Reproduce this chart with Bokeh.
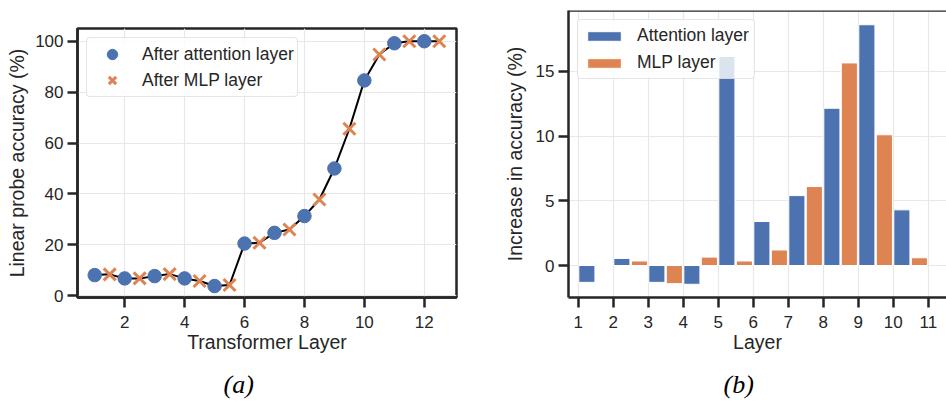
from bokeh.plotting import figure
from bokeh.models import Legend, LegendItem, Span, Title, FixedTicker, Range1d, ColumnDataSource
from bokeh.layouts import row
from bokeh.transform import dodge
from bokeh.embed import file_html
from bokeh.resources import INLINE

# ---- data: panel (a) ----
att_layers = [1, 2, 3, 4, 5, 6, 7, 8, 9, 10, 11, 12]
att_acc = [8.1, 6.8, 7.7, 6.8, 3.8, 20.5, 24.7, 31.3, 50.0, 84.6, 99.2, 100.0]
mlp_layers = [1.5, 2.5, 3.5, 4.5, 5.5, 6.5, 7.5, 8.5, 9.5, 10.5, 11.5, 12.5]
mlp_acc = [8.4, 6.8, 8.5, 5.8, 4.2, 20.8, 26.0, 37.8, 65.6, 94.8, 100.0, 100.0]
a_xticks = [2, 4, 6, 8, 10, 12]
a_yticks = [0, 20, 40, 60, 80, 100]

# ---- data: panel (b) ----
bar_layers = [1, 2, 3, 4, 5, 6, 7, 8, 9, 10]
inc_att = [-1.3, 0.55, -1.3, -1.45, 16.15, 3.4, 5.4, 12.15, 18.6, 4.3]
inc_mlp = [0.0, 0.35, -1.4, 0.65, 0.35, 1.2, 6.1, 15.65, 10.1, 0.6]
b_xticks = [1, 2, 3, 4, 5, 6, 7, 8, 9, 10, 11]
b_yticks = [0, 5, 10, 15]

BLUE = "#4c72b0"
ORANGE = "#dd8452"
DARK = "#262626"
GRID = "#e8e8e8"
FONT = "Liberation Sans"


def style(p, xticks, yticks):
    try:
        p.frame_align = False
    except Exception:
        pass
    p.xaxis.ticker = FixedTicker(ticks=xticks)
    p.yaxis.ticker = FixedTicker(ticks=yticks)
    for ax in p.axis:
        ax.major_label_text_font = FONT
        ax.major_label_text_font_size = "17px"
        ax.major_label_text_color = DARK
        ax.axis_label_text_font = FONT
        ax.axis_label_text_font_size = "19.5px"
        ax.axis_label_text_font_style = "normal"
        ax.axis_label_text_color = DARK
        ax.major_tick_out = 10
        ax.major_tick_in = 0
        ax.minor_tick_out = 0
        ax.minor_tick_in = 0
        ax.major_tick_line_width = 2.5
        ax.major_tick_line_color = DARK
        ax.axis_line_width = 2.5
        ax.axis_line_color = DARK
        ax.major_label_standoff = 4
    p.xaxis.major_label_standoff = 8
    p.xaxis.axis_label_standoff = 0
    for g in p.grid:
        g.grid_line_color = GRID
        g.grid_line_width = 1.2
    p.background_fill_color = "white"
    p.border_fill_color = "white"


def style_legend(lg):
    lg.label_text_font = FONT
    lg.label_text_font_size = "17.5px"
    lg.label_text_color = DARK
    lg.border_line_color = "#cccccc"
    lg.border_line_width = 1
    lg.background_fill_color = "white"
    lg.background_fill_alpha = 0.8
    lg.location = "top_left"
    lg.margin = 9
    try:
        lg.border_radius = 4
    except Exception:
        pass


def caption(p, text, offset):
    # empty spacer panel, then the caption panel at the bottom of the figure
    p.add_layout(Title(text=" ", text_font_size="1px", standoff=9), "below")
    p.add_layout(Title(text=text, align="left", offset=offset, standoff=0,
                       text_font="Liberation Serif", text_font_style="italic",
                       text_font_size="26px", text_color="black"), "below")


# ---------------- panel (a) ----------------
p1 = figure(width=480, height=403, output_backend="svg", toolbar_location=None, title=None,
            x_range=Range1d(0.425, 13.075), y_range=Range1d(-0.7, 105),
            min_border_left=77, min_border_right=24, min_border_top=28, min_border_bottom=106)
style(p1, a_xticks, a_yticks)
p1.outline_line_color = DARK
p1.outline_line_width = 2.5
p1.outline_line_alpha = 1
p1.xaxis.axis_label = "Transformer Layer"
p1.yaxis.axis_label = "Linear probe accuracy (%)"
p1.yaxis.axis_label_standoff = 4

pairs = sorted(zip(att_layers + mlp_layers, att_acc + mlp_acc))
line_x = [a for a, _ in pairs]
line_y = [b for _, b in pairs]
p1.line(line_x, line_y, line_color="black", line_width=2)
r_att = p1.scatter(att_layers, att_acc, marker="circle", size=13.5, fill_color=BLUE, line_color=BLUE)
r_mlp = p1.scatter(mlp_layers, mlp_acc, marker="x", size=17, line_color=ORANGE, line_width=3)

lg1 = Legend(items=[LegendItem(label="After attention layer", renderers=[r_att]),
                    LegendItem(label="After MLP layer", renderers=[r_mlp])])
style_legend(lg1)
lg1.glyph_width = 44
lg1.glyph_height = 26
lg1.label_height = 26
lg1.spacing = 0
lg1.padding = 3
lg1.label_standoff = 8
p1.add_layout(lg1)
caption(p1, "(a)", 146)

# ---------------- panel (b) ----------------
src = ColumnDataSource(dict(layer=bar_layers, att=inc_att, mlp=inc_mlp))
p2 = figure(width=466, height=403, output_backend="svg", toolbar_location=None, title=None,
            x_range=Range1d(0.72, 11.52), y_range=Range1d(-2.47, 19.7),
            min_border_left=88, min_border_right=0, min_border_top=10, min_border_bottom=106)
style(p2, b_xticks, b_yticks)
p2.outline_line_color = None
p2.xaxis.axis_label = "Layer"
p2.yaxis.axis_label = "Increase in accuracy (%)"
p2.yaxis.axis_label_standoff = 7
p2.add_layout(Span(location=19.7, dimension="width", line_color=DARK, line_width=2.5))

b_att = p2.vbar(x=dodge("layer", 0.245, range=p2.x_range), top="att", bottom=0, width=0.46,
                source=src, fill_color=BLUE, line_color="white", line_width=1)
b_mlp = p2.vbar(x=dodge("layer", 0.745, range=p2.x_range), top="mlp", bottom=0, width=0.46,
                source=src, fill_color=ORANGE, line_color="white", line_width=1)

lg2 = Legend(items=[LegendItem(label="Attention layer", renderers=[b_att]),
                    LegendItem(label="MLP layer", renderers=[b_mlp])])
style_legend(lg2)
lg2.glyph_width = 42
lg2.glyph_height = 12
lg2.label_height = 20
lg2.spacing = 6
lg2.padding = 5
lg2.label_standoff = 12
p2.add_layout(lg2)
caption(p2, "(b)", 155)

layout = row(p1, p2)
open("out.html", "w").write(file_html(layout, INLINE))
